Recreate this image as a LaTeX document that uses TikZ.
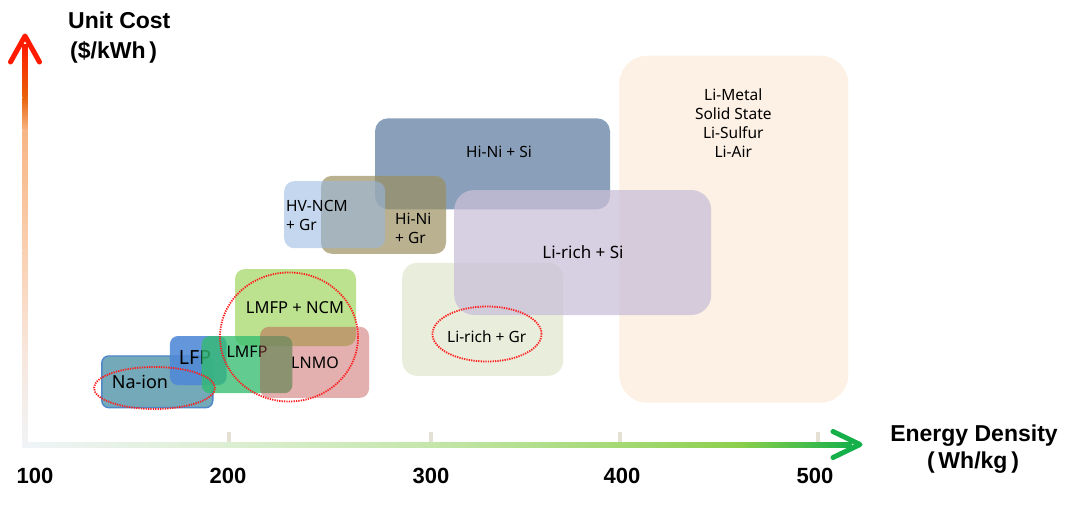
\documentclass[tikz,border=0pt]{standalone}
\usepackage{fontspec}
\setmainfont{Noto Sans}
\newfontfamily\axisfont{Liberation Sans}
\usetikzlibrary{shapes.geometric}
\definecolor{metal}{HTML}{FDF0E4}
\definecolor{hinisi}{HTML}{8AA0BA}
\definecolor{hvncm}{HTML}{98B8E3}
\definecolor{hinigr}{HTML}{9B9061}
\definecolor{lirichgr}{HTML}{E9EEDC}
\definecolor{lirichsi}{HTML}{CABFD8}
\definecolor{naion}{HTML}{73A9B9}
\definecolor{naedge}{HTML}{4F86C8}
\definecolor{lmfpncm}{HTML}{BCE28F}
\definecolor{lfp}{HTML}{4F88D6}
\definecolor{lmfp}{HTML}{33BD6F}
\definecolor{lnmo}{HTML}{BE4646}
\definecolor{ringred}{HTML}{FF1E1E}
\definecolor{yax0}{HTML}{F1F3F5}
\definecolor{yax1}{HTML}{F8E6DC}
\definecolor{yax2}{HTML}{FAD0B0}
\definecolor{yax3}{HTML}{F7B585}
\definecolor{yax4}{HTML}{E8620A}
\definecolor{yax5}{HTML}{FF1A00}
\definecolor{xax0}{HTML}{F0F4F8}
\definecolor{xax1}{HTML}{DDEFD3}
\definecolor{xax2}{HTML}{C4E6AA}
\definecolor{xax3}{HTML}{A4D974}
\definecolor{xax4}{HTML}{8CCF4C}
\definecolor{xax5}{HTML}{16B04A}
\definecolor{tickc}{HTML}{E4E0D4}

\begin{document}
\begin{tikzpicture}[line cap=round,line join=round,x=1pt,y=-1pt,
	cell/.style={rectangle,rounded corners=#1,inner sep=0pt},
	cell/.default=9pt,
	tag/.style={inner sep=0pt,align=center,font=\fontsize{15.5}{19}\selectfont},
	ring/.style={ellipse,draw=ringred,line width=1.8pt,line cap=butt,dash pattern=on 1.3pt off 1.1pt,inner sep=0pt},
	ticklab/.style={inner sep=0pt,font=\axisfont\bfseries\fontsize{22}{26}\selectfont},
	axtitle/.style={inner sep=0pt,font=\axisfont\bfseries\fontsize{23}{27}\selectfont}]
		\useasboundingbox (0,0) rectangle (1080,504);
		\node[cell=28pt,fill=metal,minimum width=229pt,minimum height=347pt] (limetal) at (733.8,229.2) {};
		\node[tag] (limetaltxt) at (733.3,122.7) {Li-Metal\\Solid State\\Li-Sulfur\\Li-Air};
		\node[cell=13pt,fill=hinisi,minimum width=235pt,minimum height=91pt] (hinisi) at (492.5,163.8) {};
		\node[cell=11pt,fill=hinigr,fill opacity=0.7,minimum width=125pt,minimum height=78pt] (hinigr) at (383.5,214.8) {};
		\node[cell=10pt,fill=hvncm,fill opacity=0.56,minimum width=101pt,minimum height=67pt] (hvncm) at (334.7,214.7) {};
		\node[tag] (hinisitxt) at (499,152) {Hi-Ni + Si};
		\node[tag,anchor=west,align=left] (hvncmtxt) at (286,215.5) {HV-NCM\\+ Gr};
		\node[tag,anchor=west,align=left] (hinigrtxt) at (395,228.8) {Hi-Ni\\+ Gr};
		\node[cell=15pt,fill=lirichgr,minimum width=161pt,minimum height=113pt] (lirichgr) at (482.7,319.3) {};
		\node[cell=20pt,fill=lirichsi,fill opacity=0.75,minimum width=257pt,minimum height=125pt] (lirichsi) at (582.7,252.5) {};
		\node[tag,font=\fontsize{17}{20}\selectfont] (lirichsitxt) at (583,251.7) {Li-rich + Si};
		\node[tag] (lirichgrtxt) at (486.7,336.7) {Li-rich + Gr};
		\node[ring,minimum width=109pt,minimum height=55pt] (lirichgrring) at (487,334) {};
		\node[cell=7pt,fill=naion,draw=naedge,line width=1.4pt,minimum width=111pt,minimum height=51.7pt] (naion) at (157.3,381.8) {};
		\node[tag,font=\fontsize{18}{20}\selectfont] (naiontxt) at (140,382) {Na-ion};
		\node[cell=10pt,fill=lmfpncm,minimum width=121pt,minimum height=77pt] (lmfpncm) at (295.5,307.5) {};
		\node[cell=8pt,fill=lfp,fill opacity=0.88,minimum width=56.7pt,minimum height=49pt] (lfp) at (198.3,360.5) {};
		\node[tag,font=\fontsize{19.5}{22}\selectfont] (lfptxt) at (195,358) {LFP};
		\node[cell=8pt,fill=lmfp,fill opacity=0.77,minimum width=90.6pt,minimum height=57pt] (lmfp) at (247,364.7) {};
		\node[tag,font=\fontsize{16}{19}\selectfont] (lmfptxt) at (247,352) {LMFP};
		\node[cell=9pt,fill=lnmo,fill opacity=0.43,minimum width=109pt,minimum height=71pt] (lnmo) at (314.5,362.3) {};
		\node[tag,font=\fontsize{16}{19}\selectfont] (lnmotxt) at (315,363) {LNMO};
		\node[tag,font=\fontsize{16.5}{19}\selectfont] (lmfpncmtxt) at (295,308) {LMFP + NCM};
		\node[ring,minimum width=121pt,minimum height=42pt] (naring) at (154.5,388) {};
		\node[ring,minimum width=138pt,minimum height=129pt] (midring) at (289,337) {};
		\coordinate (origin) at (25,444.5);
		\coordinate (ytip) at (25,36);
		\coordinate (xtip) at (860,444.5);
		\foreach \ya/\yb/\ca/\cb in {444.5/350/yax0/yax1,350.5/250/yax1/yax2,250.5/130/yax2/yax3,130.5/97/yax3/yax4,97.5/44/yax4/yax5}
			\shade[bottom color=\ca,top color=\cb] (22.5,\ya) rectangle (27.5,\yb);
		\foreach \xa/\xb/\ca/\cb in {22.5/228/xax0/xax1,227.5/431/xax1/xax2,430.5/620/xax2/xax3,619.5/740/xax3/xax4,739.5/852/xax4/xax5}
			\shade[left color=\ca,right color=\cb] (\xa,442) rectangle (\xb,447);
		\draw[line width=5pt,color=yax5] (10.5,62) -- (ytip) -- (39.5,62);
		\draw[line width=5pt,color=xax5] (833,431.5) -- (xtip) -- (833,457.5);
		\foreach \x in {228.5,431,620,818}
			\draw[line width=4pt,color=tickc,line cap=butt] (\x,432) -- (\x,442);
		\foreach \x/\t in {35/100,228/200,431/300,622/400,815/500}
			\node[ticklab] (tick\t) at (\x,476) {\t};
		\node[axtitle,anchor=base west] (costlab) at (68,28) {Unit Cost};
		\node[axtitle,anchor=base west] (costunit) at (70,58) {(\$/kWh\,)};
		\node[axtitle,anchor=base] (densitylab) at (974,441.7) {Energy Density};
		\node[axtitle,anchor=base] (densityunit) at (973,468) {(\,Wh/kg\,)};
\end{tikzpicture}
\end{document}
